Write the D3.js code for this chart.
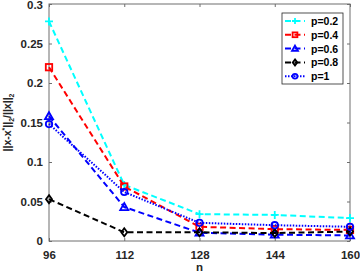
<!DOCTYPE html>
<html>
<head>
<meta charset="utf-8">
<script src="https://cdn.jsdelivr.net/npm/d3@7"></script>
<style>
  body { margin: 0; background: #fff; }
  svg text { font-family: "Liberation Sans", Arial, sans-serif; font-weight: bold; }
</style>
</head>
<body>
<div id="chart"></div>
<script>
  // data
  const nValues = [96, 112, 128, 144, 160];
  const yTicks = [0, 0.05, 0.1, 0.15, 0.2, 0.25, 0.3];
  const p02 = [0.278, 0.071, 0.034, 0.033, 0.029];
  const p04 = [0.220, 0.069, 0.018, 0.015, 0.014];
  const p06 = [0.158, 0.043, 0.0105, 0.008, 0.007];
  const p08 = [0.053, 0.011, 0.011, 0.010, 0.012];
  const p1  = [0.148, 0.062, 0.023, 0.020, 0.018];
  const seriesNames = ["p=0.2", "p=0.4", "p=0.6", "p=0.8", "p=1"];

  const series = [
    {name: seriesNames[0], values: p02, color: "#00ffff", dash: "6,3.5", marker: "plus"},
    {name: seriesNames[1], values: p04, color: "#ff0000", dash: "6,3.5", marker: "square"},
    {name: seriesNames[2], values: p06, color: "#0000ff", dash: "6,3.5", marker: "triangle"},
    {name: seriesNames[3], values: p08, color: "#000000", dash: "6,3.5", marker: "diamond"},
    {name: seriesNames[4], values: p1,  color: "#0000ff", dash: "1.5,1.5", marker: "circle"}
  ];

  width = 360
  height = 273
  margin = ({top: 4, right: 10, bottom: 32, left: 49})

  const svg = d3.select("#chart").append("svg")
    .attr("width", width).attr("height", height);

  x = d3.scaleLinear().domain([96, 160]).range([margin.left, width - margin.right])
  y = d3.scaleLinear().domain([0, 0.3]).range([height - margin.bottom, margin.top])

  const axisColor = "#6e6e6e";

  // box
  svg.append("rect")
    .attr("x", margin.left).attr("y", margin.top)
    .attr("width", width - margin.right - margin.left)
    .attr("height", height - margin.bottom - margin.top)
    .attr("fill", "none").attr("stroke", axisColor).attr("stroke-width", 1);

  const xAxis = svg.append("g")
    .attr("transform", `translate(0,${height - margin.bottom})`)
    .call(d3.axisBottom(x).tickValues(nValues).tickSize(-3).tickPadding(10).tickFormat(d3.format("d")));
  const xTop = svg.append("g")
    .attr("transform", `translate(0,${margin.top})`)
    .call(d3.axisTop(x).tickValues(nValues).tickSize(-3).tickFormat(""));
  const yAxis = svg.append("g")
    .attr("transform", `translate(${margin.left},0)`)
    .call(d3.axisLeft(y).tickValues(yTicks).tickSize(-3).tickPadding(6).tickFormat(d => d3.format("")(+d.toFixed(2))));
  const yRight = svg.append("g")
    .attr("transform", `translate(${width - margin.right},0)`)
    .call(d3.axisRight(y).tickValues(yTicks).tickSize(-3).tickFormat(""));

  [xAxis, xTop, yAxis, yRight].forEach(g => {
    g.select(".domain").remove();
    g.selectAll("line").attr("stroke", axisColor);
    g.selectAll("text").attr("fill", "#262626").style("font-size", "11.5px");
  });
  // keep the top label inside the picture
  yAxis.selectAll(".tick").filter(d => d === 0.3).select("text").attr("dy", "0.42em");

  // axis labels
  svg.append("text")
    .attr("x", (margin.left + width - margin.right) / 2)
    .attr("y", 271)
    .attr("text-anchor", "middle")
    .style("font-size", "11.5px")
    .attr("fill", "#262626")
    .text("n");

  const yl = svg.append("text")
    .attr("transform", `translate(11,${(margin.top + height - margin.bottom) / 2}) rotate(-90)`)
    .attr("text-anchor", "middle")
    .style("font-size", "10.5px")
    .attr("fill", "#262626");
  yl.append("tspan").text("||x-x");
  yl.append("tspan").attr("dy", -4).style("font-size", "7px").text("*");
  yl.append("tspan").attr("dy", 4).text("||");
  yl.append("tspan").attr("dy", 3).style("font-size", "7px").text("2");
  yl.append("tspan").attr("dy", -3).text("/||x||");
  yl.append("tspan").attr("dy", 3).style("font-size", "7px").text("2");

  function drawMarker(g, type, color, cx, cy, s) {
    if (type === "plus") {
      g.append("path").attr("d", `M${cx - s},${cy}H${cx + s}M${cx},${cy - s}V${cy + s}`)
        .attr("stroke", color).attr("stroke-width", 1.8).attr("fill", "none");
    } else if (type === "square") {
      g.append("rect").attr("x", cx - s * 0.8).attr("y", cy - s * 0.8)
        .attr("width", s * 1.6).attr("height", s * 1.6)
        .attr("stroke", color).attr("stroke-width", 1.8).attr("fill", "none");
    } else if (type === "triangle") {
      g.append("path").attr("d", `M${cx},${cy - s}L${cx + s},${cy + s * 0.75}L${cx - s},${cy + s * 0.75}Z`)
        .attr("stroke", color).attr("stroke-width", 1.8).attr("fill", "none");
    } else if (type === "diamond") {
      g.append("path").attr("d", `M${cx},${cy - s}L${cx + s * 0.75},${cy}L${cx},${cy + s}L${cx - s * 0.75},${cy}Z`)
        .attr("stroke", color).attr("stroke-width", 1.8).attr("fill", "none");
    } else if (type === "circle") {
      g.append("circle").attr("cx", cx).attr("cy", cy).attr("r", s * 0.8)
        .attr("stroke", color).attr("stroke-width", 1.8).attr("fill", "none");
    }
  }

  const line = d3.line().x((d, i) => x(nValues[i])).y(d => y(d));

  series.forEach(s => {
    const g = svg.append("g");
    g.append("path")
      .datum(s.values)
      .attr("d", line)
      .attr("fill", "none")
      .attr("stroke", s.color)
      .attr("stroke-width", 2)
      .attr("stroke-dasharray", s.dash);
    s.values.forEach((v, i) => drawMarker(g, s.marker, s.color, x(nValues[i]), y(v), 4));
  });

  // legend
  const lg = svg.append("g");
  lg.append("rect")
    .attr("x", 282).attr("y", 13).attr("width", 61).attr("height", 71)
    .attr("fill", "#fff").attr("stroke", "#262626").attr("stroke-width", 0.8);
  series.forEach((s, i) => {
    const ly = 21 + i * 13.8;
    lg.append("line")
      .attr("x1", 285).attr("x2", 305).attr("y1", ly).attr("y2", ly)
      .attr("stroke", s.color).attr("stroke-width", 2)
      .attr("stroke-dasharray", s.dash);
    drawMarker(lg, s.marker, s.color, 295, ly, 3);
    lg.append("text")
      .attr("x", 311).attr("y", ly + 4)
      .style("font-size", "10.5px")
      .attr("fill", "#000")
      .text(s.name);
  });
</script>
</body>
</html>
